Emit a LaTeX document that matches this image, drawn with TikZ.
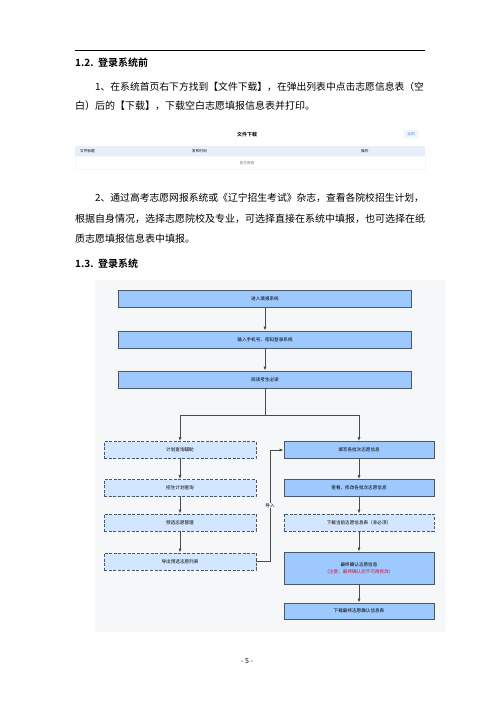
\documentclass[tikz,border=0pt]{standalone}
\usepackage{fontspec}
\usepackage{xcolor}
\setmainfont{Noto Sans CJK SC}[BoldFont={Noto Sans CJK SC Bold}]
\usetikzlibrary{arrows.meta}

\definecolor{boxfill}{HTML}{9DC9FF}
\definecolor{dashfill}{HTML}{D2E7FF}
\definecolor{boxline}{HTML}{4B5868}
\definecolor{panelbg}{HTML}{F6F7F9}
\definecolor{linkgray}{HTML}{4A4A4A}
\definecolor{notered}{HTML}{D0103A}
\definecolor{headband}{HTML}{E9EFFA}
\definecolor{btnblue}{HTML}{4D8FE0}

\tikzset{
  bodytext/.style={anchor=west, inner sep=0pt, font=\fontsize{10}{12}\selectfont},
  headtext/.style={anchor=west, inner sep=0pt, font=\fontsize{10}{12}\selectfont\bfseries},
  solidbox/.style={draw=boxline, fill=boxfill, line width=0.8pt, inner sep=1pt,
    align=center, font=\fontsize{4.6}{6}\selectfont},
  dashbox/.style={solidbox, fill=dashfill, dashed, dash pattern=on 3pt off 1.6pt},
  link/.style={draw=linkgray, line width=0.7pt, -{Latex[length=4pt,width=3pt]}},
  tabletext/.style={inner sep=0pt, font=\fontsize{3.6}{4}\selectfont}
}

\begin{document}
\begin{tikzpicture}[x=1pt, y=-1pt]
        % page size
        \useasboundingbox[fill=white] (0,0) rectangle (500,707);

        % top rule and section 1.2
        \draw[line width=0.8pt] (75,50) -- (425,50);
        \node[headtext] (sec12) at (75,63) {1.2.\ \ 登录系统前};
        \node[bodytext, font=\fontsize{9.8}{12}\selectfont] (par1a) at (95,87) {1、在系统首页右下方找到【文件下载】，在弹出列表中点击志愿信息表（空};
        \node[bodytext] (par1b) at (75,106) {白）后的【下载】，下载空白志愿填报信息表并打印。};

        % screenshot of the download list
        \node[font=\fontsize{5}{6}\selectfont\bfseries, inner sep=0pt] (dltitle) at (247,135) {文件下载};
        \node[draw=headband, fill=headband!60, rounded corners=1pt, minimum width=14pt, minimum height=8pt,
          inner sep=0pt, text=btnblue, font=\fontsize{3.6}{4}\selectfont] (dlback) at (411,134) {返回};
        \fill[headband] (75,146) rectangle (425,156);
        \draw[headband!50] (75,156) rectangle (425,169);
        \node[tabletext, anchor=west] (colname) at (80,151) {文件标题};
        \node[tabletext, anchor=west] (coldate) at (192,151) {发布时间};
        \node[tabletext, anchor=west] (colop) at (361,151) {操作};
        \node[tabletext, text=gray] (nodata) at (247,163) {暂无数据};

        % paragraph 2 and section 1.3
        \node[bodytext, font=\fontsize{9.8}{12}\selectfont] (par2a) at (95,198) {2、通过高考志愿网报系统或《辽宁招生考试》杂志，查看各院校招生计划，};
        \node[bodytext] (par2b) at (75,219) {根据自身情况，选择志愿院校及专业，可选择直接在系统中填报，也可选择在纸};
        \node[bodytext] (par2c) at (75,239) {质志愿填报信息表中填报。};
        \node[headtext] (sec13) at (75,264) {1.3.\ \ 登录系统};

        % flow chart panel
        \fill[panelbg] (95,280) rectangle (445,632);

        % main steps
        \node[solidbox, minimum width=293pt, minimum height=17pt] (enter) at (265,298.5) {进入填报系统};
        \node[solidbox, minimum width=293pt, minimum height=17pt] (login) at (265,339.5) {输入手机号、密码登录系统};
        \node[solidbox, minimum width=293pt, minimum height=17pt] (notice) at (265,379.5) {阅读考生必读};

        % left column (optional helpers)
        \node[dashbox, minimum width=152pt, minimum height=17pt] (helper) at (180,450) {计划查询辅助};
        \node[dashbox, minimum width=152pt, minimum height=17pt] (plan) at (180,488) {招生计划查询};
        \node[dashbox, minimum width=152pt, minimum height=17pt] (presel) at (180,522.5) {预选志愿管理};
        \node[dashbox, minimum width=152pt, minimum height=17pt] (export) at (180,561.5) {导出预选志愿列表};

        % right column (filling in)
        \node[solidbox, minimum width=150pt, minimum height=17pt] (fill) at (359,450) {填写各批次志愿信息};
        \node[solidbox, minimum width=150pt, minimum height=17pt] (modify) at (359,488) {查看、修改各批次志愿信息};
        \node[dashbox, minimum width=150pt, minimum height=17pt] (dlcur) at (359,522.5) {下载当前志愿信息表（非必须）};
        \node[solidbox, minimum width=150pt, minimum height=32pt] (confirm) at (359,568)
          {最终确认志愿信息\\[1pt]{\color{notered}（注意：最终确认后不可再修改）}};
        \node[solidbox, minimum width=150pt, minimum height=16pt] (dlfinal) at (359,611) {下载最终志愿确认信息表};

        % connectors
        \draw[link] (enter) -- (login);
        \draw[link] (login) -- (notice);
        \coordinate (fork) at (265,415);
        \draw[link] (notice.south) -- (fork) -| (helper.north);
        \draw[link] (fork) -| (fill.north);
        \draw[link] (helper) -- (plan);
        \draw[link] (plan) -- (presel);
        \draw[link] (presel) -- (export);
        \draw[link] (fill) -- (modify);
        \draw[link] (modify) -- (dlcur);
        \draw[link] (dlcur) -- (confirm);
        \draw[link] (confirm) -- (dlfinal);
        \coordinate (imp) at (270,561.5);
        \draw[link] (export.east) -- (imp) |- (fill.west)
          node[pos=0.25, fill=panelbg, inner sep=0.5pt, font=\fontsize{4.6}{6}\selectfont] (implbl) {导入};

        % page number
        \node[inner sep=0pt, font=\fontsize{7}{8}\selectfont] (pagenum) at (247,661) {- 5 -};
\end{tikzpicture}
\end{document}
